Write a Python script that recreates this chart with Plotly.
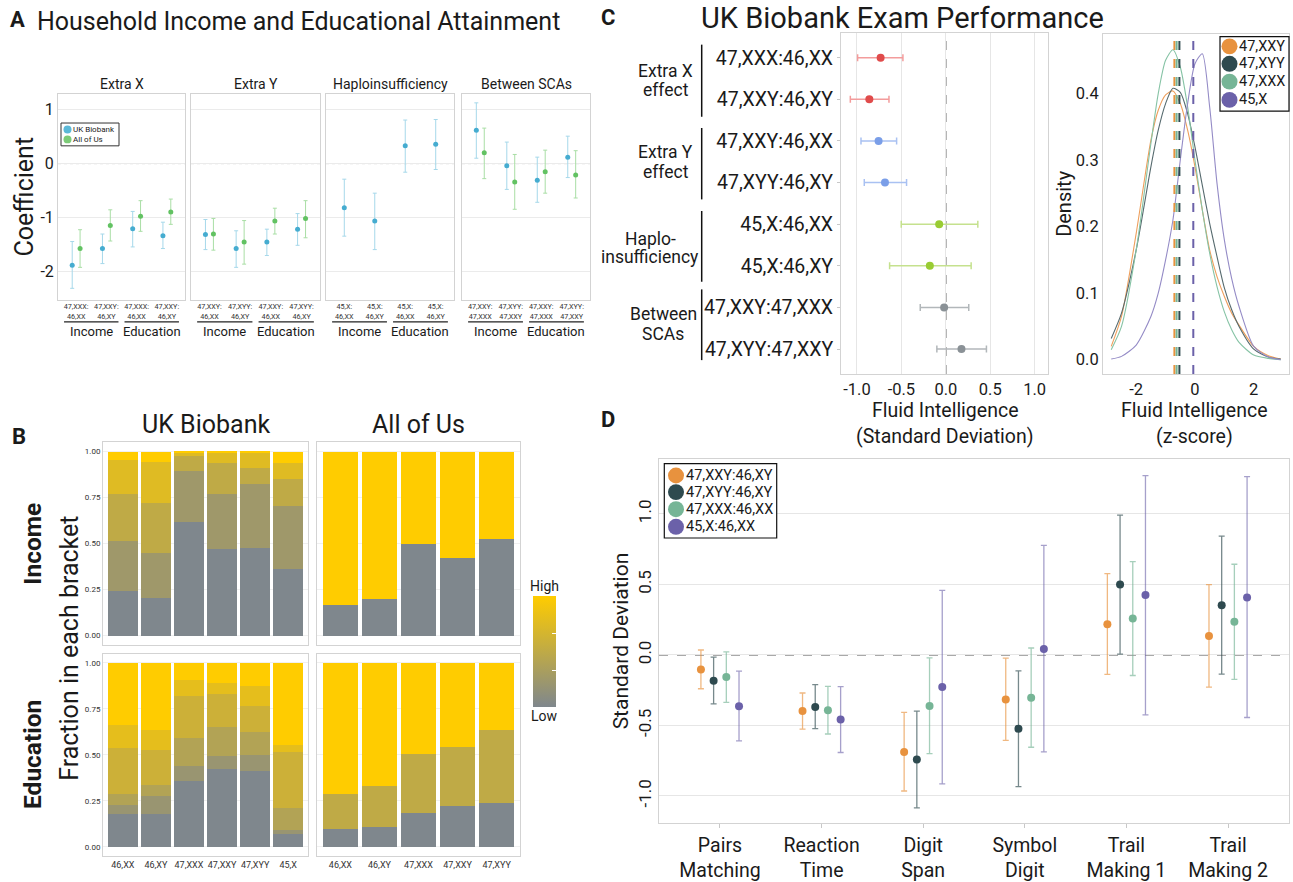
import plotly.graph_objects as go

W, H = 1293, 882
FONT = "Roboto"
TXT = "#1a1a1a"
TICK = "#333333"
FRAME = "#D3D3D3"
GRID = "#EBEBEB"


def fx(px):
    return px / W


def fy(py):
    return 1 - py / H


# ------------------------------------------------------------------ data A
a_panels = ["Extra X", "Extra Y", "Haploinsufficiency", "Between SCAs"]
a_ticklabels = [
    ["47,XXX:<br>46,XX", "47,XXY:<br>46,XY", "47,XXX:<br>46,XX", "47,XXY:<br>46,XY"],
    ["47,XXY:<br>46,XX", "47,XYY:<br>46,XY", "47,XXY:<br>46,XX", "47,XYY:<br>46,XY"],
    ["45,X:<br>46,XX", "45,X:<br>46,XY", "45,X:<br>46,XX", "45,X:<br>46,XY"],
    ["47,XXY:<br>47,XXX", "47,XYY:<br>47,XXY", "47,XXY:<br>47,XXX", "47,XYY:<br>47,XXY"],
]
a_outcomes = ["Income", "Education"]
ukb_coef = [[-1.89, -1.58, -1.21, -1.34], [-1.32, -1.58, -1.46, -1.22],
            [-0.82, -1.07, 0.33, 0.36], [0.62, -0.04, -0.31, 0.12]]
ukb_low = [[-2.32, -1.86, -1.55, -1.58], [-1.60, -1.93, -1.71, -1.52],
           [-1.35, -1.60, -0.16, -0.11], [0.10, -0.48, -0.72, -0.26]]
ukb_high = [[-1.45, -1.31, -0.89, -1.09], [-1.04, -1.25, -1.22, -0.93],
            [-0.29, -0.55, 0.81, 0.82], [1.13, 0.40, 0.12, 0.51]]
aou_coef = [[-1.58, -1.15, -0.98, -0.90], [-1.31, -1.46, -1.07, -1.02],
            None, [0.20, -0.34, -0.15, -0.21]]
aou_low = [[-1.93, -1.44, -1.26, -1.13], [-1.61, -1.87, -1.31, -1.38],
           None, [-0.28, -0.85, -0.55, -0.64]]
aou_high = [[-1.23, -0.86, -0.69, -0.66], [-1.02, -1.06, -0.83, -0.69],
            None, [0.66, 0.17, 0.25, 0.24]]

# ------------------------------------------------------------------ data B
b_geno_ukb = ["46,XX", "46,XY", "47,XXX", "47,XXY", "47,XYY", "45,X"]
b_geno_aou = ["46,XX", "46,XY", "47,XXX", "47,XXY", "47,XYY"]
# share of each bracket, lowest bracket first
ukb_income = [
    [0.245, 0.205, 0.618, 0.470, 0.477, 0.362],
    [0.267, 0.245, 0.276, 0.299, 0.348, 0.341],
    [0.256, 0.269, 0.084, 0.172, 0.085, 0.151],
    [0.185, 0.223, 0.017, 0.054, 0.085, 0.085],
    [0.047, 0.058, 0.005, 0.005, 0.005, 0.061],
]
ukb_education = [
    [0.180, 0.180, 0.358, 0.423, 0.412, 0.070],
    [0.048, 0.097, 0.084, 0.070, 0.090, 0.020],
    [0.058, 0.058, 0.150, 0.158, 0.124, 0.120],
    [0.250, 0.194, 0.228, 0.182, 0.142, 0.306],
    [0.126, 0.108, 0.085, 0.057, 0.106, 0.036],
    [0.338, 0.363, 0.095, 0.110, 0.126, 0.448],
]
aou_income = [
    [0.167, 0.199, 0.496, 0.424, 0.524],
    [0.833, 0.801, 0.504, 0.576, 0.476],
]
aou_education = [
    [0.099, 0.106, 0.185, 0.221, 0.237],
    [0.187, 0.225, 0.319, 0.322, 0.396],
    [0.714, 0.669, 0.496, 0.457, 0.367],
]

# ------------------------------------------------------------------ data C
c_labels = ["47,XXX:46,XX", "47,XXY:46,XY", "47,XXY:46,XX", "47,XYY:46,XY",
            "45,X:46,XX", "45,X:46,XY", "47,XXY:47,XXX", "47,XYY:47,XXY"]
c_est = [-0.734, -0.861, -0.757, -0.685, -0.075, -0.180, -0.019, 0.176]
c_low = [-0.993, -1.075, -0.955, -0.918, -0.502, -0.633, -0.288, -0.101]
c_high = [-0.483, -0.640, -0.554, -0.442, 0.360, 0.285, 0.258, 0.457]
c_groups = [["Extra X", "effect"], ["Extra Y", "effect"],
            ["Haplo-", "insufficiency"], ["Between", "SCAs"]]

dens_groups = ["47,XXY", "47,XYY", "47,XXX", "45,X"]
dens_x = [-2.85, -2.5, -2.0, -1.5, -1.25, -1.0, -0.75, -0.5, -0.25, 0.0, 0.25, 0.5,
          0.75, 1.0, 1.25, 1.5, 2.0, 2.5, 2.92]
dens_xxy = [0.020, 0.065, 0.190, 0.330, 0.375, 0.398, 0.404, 0.385, 0.345, 0.290,
            0.225, 0.165, 0.125, 0.095, 0.070, 0.052, 0.020, 0.006, 0.001]
dens_xyy = [0.032, 0.070, 0.165, 0.290, 0.345, 0.385, 0.408, 0.402, 0.370, 0.320,
            0.262, 0.205, 0.155, 0.108, 0.075, 0.050, 0.016, 0.004, 0.001]
dens_xxx = [0.015, 0.050, 0.165, 0.325, 0.400, 0.450, 0.466, 0.440, 0.380, 0.300,
            0.225, 0.160, 0.110, 0.072, 0.045, 0.026, 0.007, 0.002, 0.000]
dens_x0 = [0.001, 0.005, 0.022, 0.065, 0.100, 0.150, 0.210, 0.300, 0.385, 0.445,
           0.460, 0.380, 0.265, 0.180, 0.122, 0.080, 0.020, 0.004, 0.000]
dens_means = [-0.70, -0.53, -0.625, -0.057]

# ------------------------------------------------------------------ data D
d_tasks = ["Pairs<br>Matching", "Reaction<br>Time", "Digit<br>Span",
           "Symbol<br>Digit", "Trail<br>Making 1", "Trail<br>Making 2"]
d_groups = ["47,XXY:46,XY", "47,XYY:46,XY", "47,XXX:46,XX", "45,X:46,XX"]
d_est = [
    [-0.103, -0.397, -0.688, -0.317, 0.218, 0.134],
    [-0.183, -0.369, -0.742, -0.523, 0.500, 0.352],
    [-0.157, -0.392, -0.362, -0.303, 0.258, 0.235],
    [-0.364, -0.458, -0.228, 0.042, 0.425, 0.408],
]
d_low = [
    [-0.240, -0.526, -0.965, -0.606, -0.138, -0.228],
    [-0.347, -0.523, -1.085, -0.934, 0.005, -0.136],
    [-0.336, -0.561, -0.700, -0.655, -0.146, -0.174],
    [-0.610, -0.692, -0.915, -0.688, -0.425, -0.444],
]
d_high = [
    [0.035, -0.270, -0.408, -0.023, 0.577, 0.498],
    [-0.016, -0.211, -0.399, -0.113, 0.991, 0.843],
    [0.021, -0.223, -0.021, 0.049, 0.662, 0.643],
    [-0.115, -0.225, 0.458, 0.777, 1.272, 1.265],
]

# ------------------------------------------------------------------ styles
UKB_PT, UKB_BAR = "#45ACD0", "#A6D8EA"
AOU_PT, AOU_BAR = "#62C262", "#A9DEA5"
C_PT = ["#E04B4B", "#7A9EE8", "#99CC33", "#8A9196"]
C_BAR = ["#F39C9C", "#A9C1F2", "#C5E18E", "#B2B7BA"]
D_PT = ["#E8923E", "#2E4A4F", "#76B596", "#6B61A9"]
D_BAR = ["rgba(232,146,62,0.65)", "rgba(46,74,79,0.65)",
         "rgba(118,181,150,0.65)", "rgba(107,97,169,0.6)"]
DENS_LINE = ["#EE9F5C", "#566A6E", "#86C3A5", "#948BC6"]
LOW_RGB, HIGH_RGB = (127, 135, 141), (255, 204, 0)


def ramp(n):
    out = []
    for k in range(n):
        t = k / (n - 1)
        c = [round(LOW_RGB[i] + (HIGH_RGB[i] - LOW_RGB[i]) * t) for i in range(3)]
        out.append("rgb(%d,%d,%d)" % tuple(c))
    return out


fig = go.Figure()
shapes = []
annotations = []


def ann(text, px, py, size, xanchor="center", yanchor="middle", bold=False,
        angle=0, color=TXT):
    if bold:
        text = "<b>%s</b>" % text
    annotations.append(dict(text=text, x=fx(px), y=fy(py), xref="paper", yref="paper",
                            xanchor=xanchor, yanchor=yanchor, showarrow=False,
                            textangle=angle, borderpad=0,
                            font=dict(family=FONT, size=size, color=color)))


def ax_name(n, kind):
    return kind if n == 1 else "%s%d" % (kind, n)


layout_axes = {}


def make_axes(n, xdom, ydom, xkw, ykw):
    base = dict(showline=True, mirror=True, linecolor=FRAME, linewidth=1,
                zeroline=False, showgrid=False, ticks="")
    xa = dict(base, domain=[fx(xdom[0]), fx(xdom[1])], anchor=ax_name(n, "y"))
    xa.update(xkw)
    ya = dict(base, domain=[fy(ydom[1]), fy(ydom[0])], anchor=ax_name(n, "x"))
    ya.update(ykw)
    layout_axes["xaxis" if n == 1 else "xaxis%d" % n] = xa
    layout_axes["yaxis" if n == 1 else "yaxis%d" % n] = ya


# ================================================================== PANEL A
a_xdoms = [(58, 185), (191, 320), (326, 454), (462, 590)]
a_ydom = (95, 302)
cats = [1, 2, 3, 4]
for i in range(4):
    n = i + 1
    make_axes(
        n, a_xdoms[i], a_ydom,
        dict(range=[0.4, 4.6], tickvals=cats, ticktext=a_ticklabels[i],
             tickfont=dict(family=FONT, size=7.2, color=TICK)),
        dict(range=[-2.53, 1.29], tickvals=[-2, -1, 0, 1],
             ticktext=["-2", "-1", "0", "1"], showgrid=True, gridcolor=GRID,
             showticklabels=(i == 0),
             tickfont=dict(family=FONT, size=16, color=TXT)))
    xr, yr = ax_name(n, "x"), ax_name(n, "y")
    has_aou = aou_coef[i] is not None
    off = 0.13 if has_aou else 0.0
    fig.add_trace(go.Scatter(
        x=[c - off for c in cats], y=ukb_coef[i], xaxis=xr, yaxis=yr, mode="markers",
        marker=dict(size=5, color=UKB_PT),
        error_y=dict(type="data", symmetric=False,
                     array=[h - e for h, e in zip(ukb_high[i], ukb_coef[i])],
                     arrayminus=[e - l for e, l in zip(ukb_coef[i], ukb_low[i])],
                     color=UKB_BAR, thickness=1, width=2),
        hoverinfo="skip", showlegend=False))
    if has_aou:
        fig.add_trace(go.Scatter(
            x=[c + off for c in cats], y=aou_coef[i], xaxis=xr, yaxis=yr, mode="markers",
            marker=dict(size=5, color=AOU_PT),
            error_y=dict(type="data", symmetric=False,
                         array=[h - e for h, e in zip(aou_high[i], aou_coef[i])],
                         arrayminus=[e - l for e, l in zip(aou_coef[i], aou_low[i])],
                         color=AOU_BAR, thickness=1, width=2),
            hoverinfo="skip", showlegend=False))
    # dotted zero line
    shapes.append(dict(type="line", xref=xr + " domain", yref=yr, x0=0, x1=1, y0=0, y1=0,
                       line=dict(color="#9A9A9A", width=1, dash="dot"), layer="below"))
    # outcome underlines + labels
    for k, (a, b) in enumerate([(0.6, 2.4), (2.6, 4.4)]):
        shapes.append(dict(type="line", xref=xr, yref="paper", x0=a, x1=b,
                           y0=fy(324.5), y1=fy(324.5), line=dict(color="#222", width=1.2)))
        annotations.append(dict(text=a_outcomes[k], x=(a + b) / 2, y=fy(334), xref=xr,
                                yref="paper", showarrow=False, xanchor="center",
                                yanchor="middle", borderpad=0,
                                font=dict(family=FONT, size=13, color=TXT)))
    ann(a_panels[i], (a_xdoms[i][0] + a_xdoms[i][1]) / 2, 85, 14)

ann("A", 9, 20, 22, xanchor="left", bold=True)
ann("Household Income and Educational Attainment", 36, 22, 25, xanchor="left")
ann("Coefficient", 24, 198, 25, angle=-90)

# legend A
shapes.append(dict(type="rect", xref="paper", yref="paper", x0=fx(61), x1=fx(119),
                   y0=fy(147), y1=fy(124), line=dict(color="#333", width=1),
                   fillcolor="white"))
for lab, col, cy in [("UK Biobank", "#5BB9D8", 130.5), ("All of Us", "#7CCB78", 140.5)]:
    shapes.append(dict(type="circle", xref="paper", yref="paper", x0=fx(63.5), x1=fx(71.5),
                       y0=fy(cy + 4), y1=fy(cy - 4), fillcolor=col, line=dict(width=0)))
    ann(lab, 72, cy, 8, xanchor="left", color="#222")

# ================================================================== PANEL B
b_specs = [
    (5, (103, 308), (446, 650), ukb_income, b_geno_ukb, True, False),
    (6, (317, 520), (446, 650), aou_income, b_geno_aou, False, False),
    (7, (103, 308), (659, 863), ukb_education, b_geno_ukb, True, True),
    (8, (317, 520), (659, 863), aou_education, b_geno_aou, False, True),
]
for n, xd, yd, shares, geno, show_y, show_x in b_specs:
    idx = list(range(1, len(geno) + 1))
    make_axes(
        n, xd, yd,
        dict(range=[0.4, len(geno) + 0.6], tickvals=idx, ticktext=geno,
             showticklabels=show_x, tickfont=dict(family=FONT, size=9, color=TICK)),
        dict(range=[-0.05, 1.05], tickvals=[0, 0.25, 0.5, 0.75, 1.0],
             ticktext=["0.00", "0.25", "0.50", "0.75", "1.00"], showgrid=True,
             gridcolor="#F0F0F0", showticklabels=show_y,
             tickfont=dict(family=FONT, size=8, color=TICK)))
    cols = ramp(len(shares))
    for lev, vals in enumerate(shares):
        fig.add_trace(go.Bar(x=idx, y=vals, xaxis=ax_name(n, "x"), yaxis=ax_name(n, "y"),
                             width=0.9, marker=dict(color=cols[lev], line=dict(width=0)),
                             hoverinfo="skip", showlegend=False))

# colour bar (High / Low)
fig.add_trace(go.Scatter(
    x=[1], y=[0], xaxis="x6", yaxis="y6", mode="markers",
    marker=dict(size=1, opacity=0, color=[0], cmin=0, cmax=1,
                colorscale=[[0, "rgb(127,135,141)"], [0.5, "rgb(191,170,70)"],
                            [1, "rgb(255,204,0)"]],
                showscale=True,
                colorbar=dict(x=fx(533), xanchor="left", y=fy(601), yanchor="top",
                              len=111, lenmode="pixels", thickness=23,
                              thicknessmode="pixels", outlinewidth=0, xpad=0, ypad=0,
                              tickvals=[1 / 3, 2 / 3], ticks="inside", ticklen=4,
                              tickcolor="white", showticklabels=False)),
    hoverinfo="skip", showlegend=False))
ann("High", 544.5, 591, 14)
ann("Low", 544.5, 722, 14)

ann("B", 11, 440, 22, xanchor="left", bold=True)
ann("UK Biobank", 205.5, 428, 25)
ann("All of Us", 418.5, 428, 25)
ann("Income", 33, 548, 24.5, bold=True, angle=-90)
ann("Education", 33, 761, 24.5, bold=True, angle=-90)
ann("Fraction in each bracket", 70, 654, 25, angle=-90)

# ================================================================== PANEL C
rows = list(range(1, 9))
make_axes(
    9, (841, 1048), (33, 377),
    dict(range=[-1.18, 1.15], tickvals=[-1, -0.5, 0, 0.5, 1],
         ticktext=["-1.0", "-0.5", "0.0", "0.5", "1.0"], showgrid=True,
         gridcolor="#E6E6E6", tickfont=dict(family=FONT, size=16.5, color=TXT)),
    dict(range=[8.6, 0.4], tickvals=rows, ticktext=c_labels, ticks="outside",
         ticklen=3, tickcolor="#C8C8C8",
         tickfont=dict(family=FONT, size=19.5, color=TXT)))
for g in range(4):
    sl = slice(2 * g, 2 * g + 2)
    est, lo, hi = c_est[sl], c_low[sl], c_high[sl]
    fig.add_trace(go.Scatter(
        x=est, y=rows[sl], xaxis="x9", yaxis="y9", mode="markers",
        marker=dict(size=8, color=C_PT[g]),
        error_x=dict(type="data", symmetric=False,
                     array=[h - e for h, e in zip(hi, est)],
                     arrayminus=[e - l for e, l in zip(est, lo)],
                     color=C_BAR[g], thickness=1.5, width=3.5),
        hoverinfo="skip", showlegend=False))
shapes.append(dict(type="line", xref="x9", yref="y9 domain", x0=0, x1=0, y0=0, y1=1,
                   line=dict(color="#555", width=1.2, dash="dash"), layer="below"))

# group brackets
c_line_spans = [(45, 117.7), (129, 201), (212.7, 284), (291.7, 363)]
c_label_pos = [(665.5, 72, 91), (665.5, 153, 173), (650, 241, 259), (663, 317, 337)]
for (y0, y1), (cx, l1, l2), lab in zip(c_line_spans, c_label_pos, c_groups):
    shapes.append(dict(type="line", xref="paper", yref="paper", x0=fx(701.7), x1=fx(701.7),
                       y0=fy(y0), y1=fy(y1), line=dict(color="#111", width=1.5)))
    ann(lab[0], cx, l1, 17.5)
    ann(lab[1], cx, l2, 17.5)

ann("C", 600, 18, 22, xanchor="left", bold=True)
ann("UK Biobank Exam Performance", 902, 18, 29)
ann("Fluid Intelligence", 944.5, 414, 19.5)
ann("(Standard Deviation)", 944.5, 440, 19.5)

# density
make_axes(
    10, (1103, 1289), (34, 377),
    dict(range=[-3.13, 3.2], tickvals=[-2, 0, 2], ticktext=["-2", "0", "2"],
         tickfont=dict(family=FONT, size=16.5, color=TXT)),
    dict(range=[-0.0215, 0.49], tickvals=[0, 0.1, 0.2, 0.3, 0.4],
         ticktext=["0.0", "0.1", "0.2", "0.3", "0.4"],
         tickfont=dict(family=FONT, size=16.5, color=TXT)))
for k, ys in enumerate([dens_xxy, dens_xyy, dens_xxx, dens_x0]):
    fig.add_trace(go.Scatter(x=dens_x, y=ys, xaxis="x10", yaxis="y10", mode="lines",
                             line=dict(color=DENS_LINE[k], width=1.1, shape="spline",
                                       smoothing=0.7),
                             hoverinfo="skip", showlegend=False))
for k, m in enumerate(dens_means):
    shapes.append(dict(type="line", xref="x10", yref="y10 domain", x0=m, x1=m, y0=0, y1=1,
                       line=dict(color=D_PT[k], width=2, dash="dash")))
ann("Density", 1064, 205.5, 20, angle=-90)
ann("Fluid Intelligence", 1194, 414, 19.5)
ann("(z-score)", 1194, 440, 19.5)

shapes.append(dict(type="rect", xref="paper", yref="paper", x0=fx(1220), x1=fx(1289),
                   y0=fy(112), y1=fy(37), line=dict(color="#111", width=1.2),
                   fillcolor="white"))
for k, cy in enumerate([46.7, 64.3, 82.3, 100.7]):
    shapes.append(dict(type="circle", xref="paper", yref="paper", x0=fx(1221.5),
                       x1=fx(1237.5), y0=fy(cy + 8), y1=fy(cy - 8), fillcolor=D_PT[k],
                       line=dict(width=0)))
    ann(dens_groups[k], 1238, cy, 14.5, xanchor="left")

# ================================================================== PANEL D
tasks_idx = list(range(1, 7))
make_axes(
    11, (659, 1289), (463, 830),
    dict(range=[0.4, 6.6], tickvals=tasks_idx, ticktext=d_tasks, ticks="outside",
         ticklen=4, tickcolor="#C8C8C8",
         tickfont=dict(family=FONT, size=19.5, color=TXT)),
    dict(range=[-1.195, 1.387], tickvals=[-1, -0.5, 0, 0.5, 1],
         ticktext=["-1.0", "-0.5", "0.0", "0.5", "1.0"], tickangle=-90,
         showgrid=True, gridcolor="#E6E6E6",
         tickfont=dict(family=FONT, size=17, color=TXT)))
d_offsets = [-0.1875, -0.0625, 0.0625, 0.1875]
for g in range(4):
    fig.add_trace(go.Scatter(
        x=[t + d_offsets[g] for t in tasks_idx], y=d_est[g], xaxis="x11", yaxis="y11",
        mode="markers", marker=dict(size=8, color=D_PT[g]),
        error_y=dict(type="data", symmetric=False,
                     array=[h - e for h, e in zip(d_high[g], d_est[g])],
                     arrayminus=[e - l for e, l in zip(d_est[g], d_low[g])],
                     color=D_BAR[g], thickness=1.3, width=3),
        hoverinfo="skip", showlegend=False))
shapes.append(dict(type="line", xref="x11 domain", yref="y11", x0=0, x1=1, y0=0, y1=0,
                   line=dict(color="#555", width=1.2, dash="dash"), layer="below"))
ann("D", 600, 423, 22, xanchor="left", bold=True)
ann("Standard Deviation", 621, 646.5, 21, angle=-90)

shapes.append(dict(type="rect", xref="paper", yref="paper", x0=fx(664.3), x1=fx(776.7),
                   y0=fy(542.3), y1=fy(467.3), line=dict(color="#111", width=1.2),
                   fillcolor="white"))
for k, cy in enumerate([479.3, 496, 513.3, 531]):
    shapes.append(dict(type="circle", xref="paper", yref="paper", x0=fx(668), x1=fx(684),
                       y0=fy(cy + 8), y1=fy(cy - 8), fillcolor=D_PT[k],
                       line=dict(width=0)))
    ann(d_groups[k], 685, cy, 14.5, xanchor="left")

fig.update_layout(
    width=W, height=H, margin=dict(l=0, r=0, t=0, b=0, pad=0),
    paper_bgcolor="white", plot_bgcolor="white", showlegend=False, barmode="stack",
    bargap=0.1, font=dict(family=FONT, color=TXT),
    shapes=shapes, annotations=annotations, **layout_axes)

fig.write_html("out.html")
